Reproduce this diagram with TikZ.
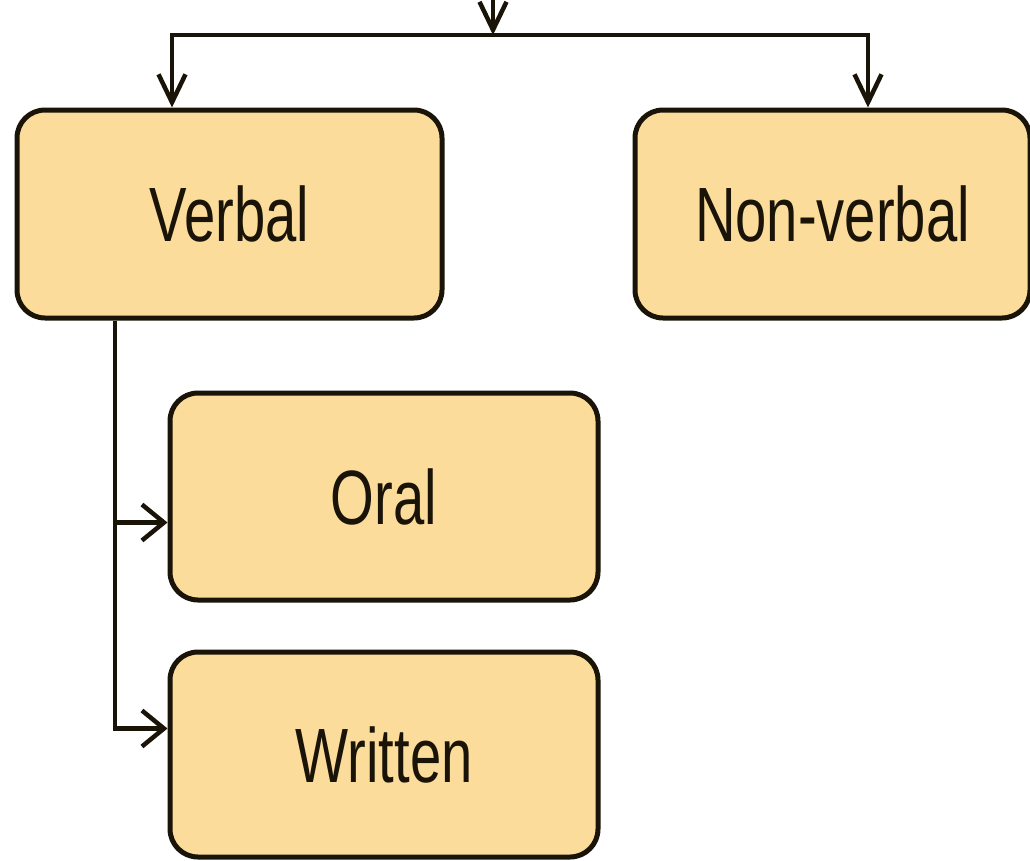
\documentclass[tikz,border=0pt]{standalone}
\usepackage{fontspec}
\usepackage{graphicx}
\setmainfont{Liberation Sans}
\usetikzlibrary{arrows.meta}
\definecolor{boxfill}{HTML}{FCDC9A}
\definecolor{ink}{HTML}{1A1408}
\newcommand{\boxlabel}[1]{\scalebox{0.73}[1]{#1}}
\begin{document}
\begin{tikzpicture}[x=1pt,y=-1pt,
  box/.style={draw=ink, fill=boxfill, line width=5pt, rounded corners=28pt,
    text=ink, font=\fontsize{77}{90}\selectfont, inner sep=0pt},
  link/.style={draw=ink, line width=4.5pt},
  down/.style={link, -{Straight Barb[length=28pt,width=27pt]}},
  right/.style={link, -{Straight Barb[length=22pt,width=36pt]}}]
  \useasboundingbox (0,0) rectangle (1030,860);

  \node[box, minimum width=425pt, minimum height=208pt] (verbal) at (229.5,214) {\boxlabel{Verbal}};
  \node[box, minimum width=395pt, minimum height=208pt] (nonverbal) at (832.5,214) {\boxlabel{Non-verbal}};
  \node[box, minimum width=428pt, minimum height=207pt] (oral) at (384,496.5) {\boxlabel{Oral}};
  \node[box, minimum width=428pt, minimum height=205pt] (written) at (384,754.5) {\boxlabel{Written}};

  % incoming branch from above
  \coordinate (src) at (493,-2);
  \coordinate (split) at (493,35);
  \draw[down] (src) -- (split);
  \draw[down] (split) -| ([xshift=-57.5pt]verbal.north);
  \draw[down] (split) -| ([xshift=35.5pt]nonverbal.north);

  % sub-types of verbal communication
  \draw[right] ([xshift=-114.5pt]verbal.south) |- ([yshift=-26pt]oral.west);
  \draw[right] ([xshift=-114.5pt]verbal.south) |- ([yshift=26pt]written.west);
\end{tikzpicture}
\end{document}
